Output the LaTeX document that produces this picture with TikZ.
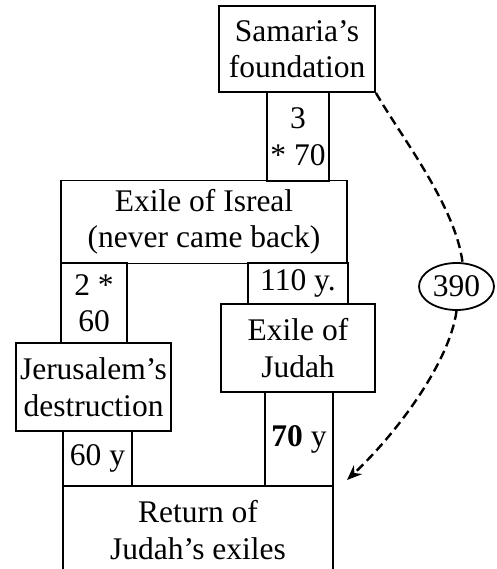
\documentclass[tikz,border=0pt]{standalone}
\usepackage{fontspec}
\setmainfont{Liberation Serif}
\usetikzlibrary{shapes.geometric,arrows.meta}
\begin{document}
\begin{tikzpicture}[x=1pt,y=-1pt,
  box/.style={draw,line width=1.8pt,rectangle,inner sep=0pt,align=center,
    font=\fontsize{31.5}{36.5}\selectfont},
  conn/.style={line width=2.4pt,dash pattern=on 9pt off 5pt},
]
\useasboundingbox (0,0) rectangle (496,569);
\clip (0,0) rectangle (496,569);
\node[box,minimum width=156pt,minimum height=86pt] (sam) at (297,49) {Samaria’s\\foundation};
\node[box,minimum width=62pt,minimum height=89pt] (b1) at (298,136.5) {3\\* 70};
\node[box,minimum width=286pt,minimum height=83pt] (isr) at (204,222) {Exile of Isreal\\(never came back)};
\node[box,minimum width=66pt,minimum height=80pt] (b2) at (94,303) {2 *\\60};
\node[box,minimum width=100pt,minimum height=41pt] (b3) at (298,283.5) {110 y.};
\node[box,minimum width=154pt,minimum height=88pt] (jud) at (298,348) {Exile of\\Judah};
\node[box,minimum width=155pt,minimum height=88pt] (jer) at (93.5,387) {Jerusalem’s\\destruction};
\node[box,minimum width=69pt,minimum height=55pt] (b4) at (97.5,458.5) {60 y};
\node[box,minimum width=68pt,minimum height=94pt] (b5) at (299,439) {\textbf{70} y};
\node[box,minimum width=270pt,minimum height=88pt] (ret) at (198,530) {Return of\\Judah’s exiles};
\node[draw,line width=1.8pt,ellipse,inner sep=0pt,minimum width=75pt,minimum height=47pt,
  font=\fontsize{31.5}{36.5}\selectfont] (n390) at (456.5,286.5) {390};
\coordinate (tip) at (347,480);
\draw[conn] (sam.south east) .. controls (400,135) and (455,205) .. ([xshift=6pt]n390.north);
\draw[conn,-{Stealth[length=15pt,width=12pt]}] (n390.south) .. controls (450,360) and (400,430) .. (tip);
\end{tikzpicture}
\end{document}
